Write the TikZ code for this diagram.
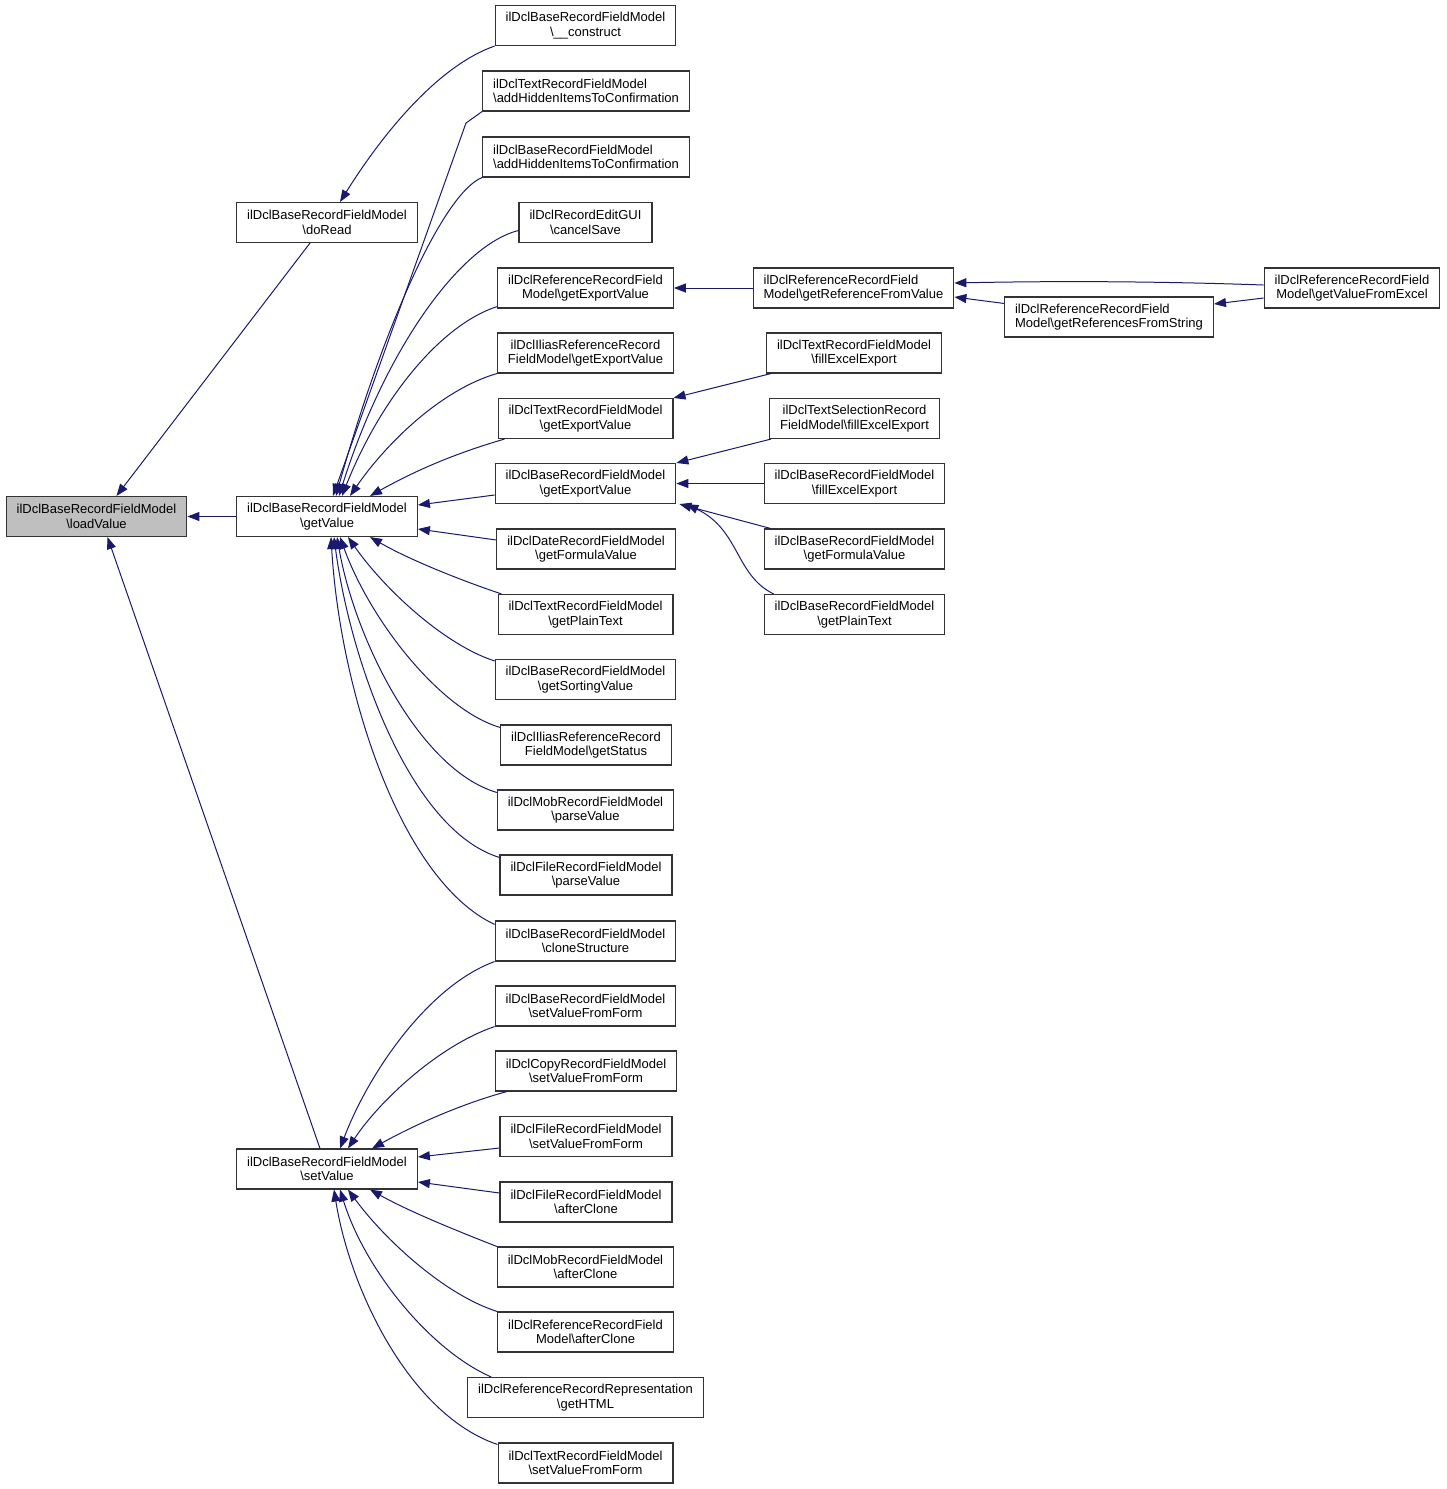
\documentclass[tikz,border=0pt]{standalone}
\usepackage{fontspec}
\setmainfont{Liberation Sans}
\usetikzlibrary{arrows.meta}
\definecolor{edgeblue}{HTML}{191970}
\definecolor{boxgray}{HTML}{BFBFBF}
\begin{document}
\begin{tikzpicture} %caller graph of loadValue
		[x=1pt,y=-1pt,
		 fn/.style={draw=black!80,line width=1.1pt,fill=white,align=center,inner xsep=10.5pt,inner ysep=2pt,minimum height=40pt,font=\fontsize{13}{14.6}\selectfont},
		 fnl/.style={fn,align=left},
		 edge/.style={draw=edgeblue,line width=1pt,-{Triangle[length=12pt,width=9pt]}}]
	\useasboundingbox (0,0) rectangle (1447,1489);

	%draw the functions, column by column
	\node[fn,fill=boxgray] (loadValue) at (96.5,516.5) {ilDclBaseRecordFieldModel\\\textbackslash loadValue};

	\node[fn] (doRead)   at (327,222.5) {ilDclBaseRecordFieldModel\\\textbackslash doRead};
	\node[fn] (getValue) at (327,516.5) {ilDclBaseRecordFieldModel\\\textbackslash getValue};
	\node[fn] (setValue) at (327,1169)  {ilDclBaseRecordFieldModel\\\textbackslash setValue};

	\node[fn]  (construct)   at (585.5,25.5)   {ilDclBaseRecordFieldModel\\\textbackslash\_\_construct};
	\node[fnl] (textHidden)  at (586,91)       {ilDclTextRecordFieldModel\\\textbackslash addHiddenItemsToConfirmation};
	\node[fnl] (baseHidden)  at (586,157)      {ilDclBaseRecordFieldModel\\\textbackslash addHiddenItemsToConfirmation};
	\node[fn]  (cancelSave)  at (585.5,222.5)  {ilDclRecordEditGUI\\\textbackslash cancelSave};
	\node[fn]  (refExport)   at (585.5,288)    {ilDclReferenceRecordField\\Model\textbackslash getExportValue};
	\node[fn]  (iliasExport) at (585.5,353)    {ilDclIliasReferenceRecord\\FieldModel\textbackslash getExportValue};
	\node[fn]  (textExport)  at (585.5,418.5)  {ilDclTextRecordFieldModel\\\textbackslash getExportValue};
	\node[fn]  (baseExport)  at (585.5,483.5)  {ilDclBaseRecordFieldModel\\\textbackslash getExportValue};
	\node[fn]  (dateFormula) at (586,549)      {ilDclDateRecordFieldModel\\\textbackslash getFormulaValue};
	\node[fn]  (textPlain)   at (585.5,614.5)  {ilDclTextRecordFieldModel\\\textbackslash getPlainText};
	\node[fn]  (baseSorting) at (585.5,679.5)  {ilDclBaseRecordFieldModel\\\textbackslash getSortingValue};
	\node[fn]  (iliasStatus) at (586,745)      {ilDclIliasReferenceRecord\\FieldModel\textbackslash getStatus};
	\node[fn]  (mobParse)    at (585.5,810)    {ilDclMobRecordFieldModel\\\textbackslash parseValue};
	\node[fn]  (fileParse)   at (586,875)      {ilDclFileRecordFieldModel\\\textbackslash parseValue};
	\node[fn]  (baseClone)   at (585.5,941)    {ilDclBaseRecordFieldModel\\\textbackslash cloneStructure};
	\node[fn]  (baseForm)    at (585.5,1006)   {ilDclBaseRecordFieldModel\\\textbackslash setValueFromForm};
	\node[fn]  (copyForm)    at (586,1071)     {ilDclCopyRecordFieldModel\\\textbackslash setValueFromForm};
	\node[fn]  (fileForm)    at (586,1136.5)   {ilDclFileRecordFieldModel\\\textbackslash setValueFromForm};
	\node[fn]  (fileAfter)   at (586,1202)     {ilDclFileRecordFieldModel\\\textbackslash afterClone};
	\node[fn]  (mobAfter)    at (585.5,1267)   {ilDclMobRecordFieldModel\\\textbackslash afterClone};
	\node[fn]  (refAfter)    at (585.5,1332)   {ilDclReferenceRecordField\\Model\textbackslash afterClone};
	\node[fn]  (refHTML)     at (585.5,1397.5) {ilDclReferenceRecordRepresentation\\\textbackslash getHTML};
	\node[fn]  (textForm)    at (585.5,1463)   {ilDclTextRecordFieldModel\\\textbackslash setValueFromForm};

	\node[fnl] (refFromValue) at (853.5,288)   {ilDclReferenceRecordField\\Model\textbackslash getReferenceFromValue};
	\node[fn]  (textExcel)    at (854,353)     {ilDclTextRecordFieldModel\\\textbackslash fillExcelExport};
	\node[fn]  (selExcel)     at (854.5,418.5) {ilDclTextSelectionRecord\\FieldModel\textbackslash fillExcelExport};
	\node[fn]  (baseExcel)    at (854.5,483.5) {ilDclBaseRecordFieldModel\\\textbackslash fillExcelExport};
	\node[fn]  (baseFormula)  at (854.5,549)   {ilDclBaseRecordFieldModel\\\textbackslash getFormulaValue};
	\node[fn]  (basePlain)    at (854.5,614.5) {ilDclBaseRecordFieldModel\\\textbackslash getPlainText};

	\node[fnl] (refFromString) at (1109,317) {ilDclReferenceRecordField\\Model\textbackslash getReferencesFromString};
	\node[fn]  (refFromExcel)  at (1352,288) {ilDclReferenceRecordField\\Model\textbackslash getValueFromExcel};

	%draw the calls into loadValue
	\draw[edge] ([xshift=-17pt]doRead.south) -- ([xshift=20pt]loadValue.north);
	\draw[edge] (getValue.west) -- (loadValue.east);
	\draw[edge] ([xshift=-7pt]setValue.north) -- ([xshift=11pt]loadValue.south);

	%draw the calls into doRead
	\draw[edge] (construct.south west) .. controls (440,65) and (385,130) .. ([xshift=13pt]doRead.north);

	%draw the calls into getValue
	\draw[edge] (textHidden.south west) -- (466,123) -- ([xshift=6pt]getValue.north);
	\draw[edge] (baseHidden.south west) .. controls (445,192) and (385,320) .. ([xshift=9pt]getValue.north);
	\draw[edge] ([yshift=-8pt]cancelSave.west) .. controls (460,245) and (385,350) .. ([xshift=12pt]getValue.north);
	\draw[edge] ([yshift=2pt]refExport.south west) .. controls (440,325) and (380,400) .. ([xshift=15pt]getValue.north);
	\draw[edge] (iliasExport.south west) .. controls (440,390) and (385,445) .. ([xshift=23pt]getValue.north);
	\draw[edge] ([xshift=7pt]textExport.south west) .. controls (460,452) and (420,468) .. ([xshift=43pt]getValue.north);
	\draw[edge] ([yshift=-11.5pt]baseExport.west) -- ([yshift=11.5pt]getValue.east);
	\draw[edge] ([yshift=9pt]dateFormula.west) -- ([yshift=-12.5pt]getValue.east);
	\draw[edge] ([xshift=4pt]textPlain.north west) .. controls (460,580) and (410,560) .. ([xshift=43pt]getValue.south);
	\draw[edge] ([yshift=-2pt]baseSorting.north west) .. controls (445,645) and (385,590) .. ([xshift=21pt]getValue.south);
	\draw[edge] ([yshift=-3pt]iliasStatus.north west) .. controls (440,710) and (370,620) .. ([xshift=13pt]getValue.south);
	\draw[edge] ([yshift=-3pt]mobParse.north west) .. controls (420,770) and (355,640) .. ([xshift=10pt]getValue.south);
	\draw[edge] ([yshift=-3pt]fileParse.north west) .. controls (410,830) and (350,660) .. ([xshift=7pt]getValue.south);
	\draw[edge] ([yshift=-4pt]baseClone.north west) .. controls (400,880) and (340,690) .. ([xshift=4pt]getValue.south);

	%draw the calls into setValue
	\draw[edge] (baseClone.south west) .. controls (430,985) and (370,1070) .. ([xshift=13pt]setValue.north);
	\draw[edge] (baseForm.south west) .. controls (440,1045) and (380,1100) .. ([xshift=21pt]setValue.north);
	\draw[edge] ([xshift=12pt]copyForm.south west) .. controls (465,1103) and (420,1122) .. ([xshift=45pt]setValue.north);
	\draw[edge] ([yshift=-11.5pt]fileForm.west) -- ([yshift=12pt]setValue.east);
	\draw[edge] ([yshift=9pt]fileAfter.west) -- ([yshift=-13pt]setValue.east);
	\draw[edge] (mobAfter.north west) .. controls (460,1232) and (410,1212) .. ([xshift=43pt]setValue.south);
	\draw[edge] (refAfter.north west) .. controls (445,1295) and (385,1240) .. ([xshift=21pt]setValue.south);
	\draw[edge] ([xshift=24pt]refHTML.north west) .. controls (430,1350) and (365,1270) .. ([xshift=13pt]setValue.south);
	\draw[edge] ([yshift=-2pt]textForm.north west) .. controls (410,1415) and (350,1290) .. ([xshift=7pt]setValue.south);

	%draw the calls into the export functions
	\draw[edge] (refFromValue.west) -- (refExport.east);
	\draw[edge] ([xshift=5pt]textExcel.south west) -- (textExport.north east);
	\draw[edge] ([xshift=2pt]selExcel.south west) -- (baseExport.north east);
	\draw[edge] (baseExcel.west) -- (baseExport.east);
	\draw[edge] ([xshift=7pt]baseFormula.north west) -- ([xshift=3pt]baseExport.south east);
	\draw[edge] ([xshift=10pt]basePlain.north west) .. controls (735,575) and (740,530) .. ([xshift=10pt]baseExport.south east);

	%draw the calls into the reference functions
	\draw[edge] ([yshift=3pt]refFromExcel.west) .. controls (1150,281) and (1050,281) .. ([yshift=5pt]refFromValue.east);
	\draw[edge] ([yshift=-7pt]refFromString.north west) -- ([yshift=-9pt]refFromValue.east);
	\draw[edge] ([yshift=-10pt]refFromExcel.west) -- ([yshift=13pt]refFromString.east);
\end{tikzpicture}
\end{document}
